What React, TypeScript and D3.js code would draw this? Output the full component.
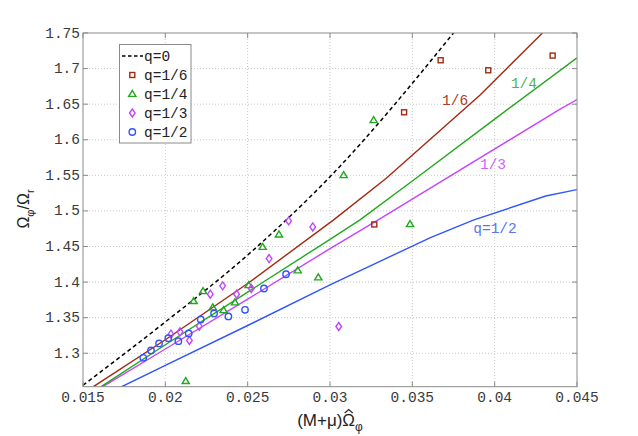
import React, { useEffect, useRef } from 'react';
import * as d3 from 'd3';

// fitted curves
const q0X = [0.015, 0.02, 0.025, 0.03, 0.0375];
const q0Y = [1.255, 1.344, 1.438, 1.548, 1.75];
const q16X = [0.01563, 0.02, 0.025, 0.0302, 0.0334, 0.0391, 0.0429];
const q16Y = [1.253, 1.319, 1.398, 1.487, 1.5455, 1.6625, 1.75];
const q14X = [0.0161, 0.02, 0.025, 0.03, 0.0318, 0.035, 0.04, 0.045];
const q14Y = [1.253, 1.312, 1.386, 1.46, 1.487, 1.542, 1.629, 1.715];
const q13X = [0.0162, 0.02, 0.025, 0.03, 0.0329, 0.0439, 0.045];
const q13Y = [1.253, 1.306, 1.376, 1.447, 1.487, 1.642, 1.6565];
const q12X = [0.01735, 0.02, 0.025, 0.03, 0.0361, 0.0387, 0.0431, 0.045];
const q12Y = [1.253, 1.283, 1.339, 1.396, 1.4626, 1.487, 1.521, 1.53];

// measured points
const sq16X = [0.03269, 0.0345, 0.03672, 0.03961, 0.04352];
const sq16Y = [1.481, 1.6386, 1.7117, 1.6976, 1.7183];
const tri14X = [0.02124, 0.02172, 0.02229, 0.02288, 0.02354, 0.02423, 0.02506, 0.02591, 0.0269, 0.02804, 0.02929, 0.03083, 0.03265, 0.03486];
const tri14Y = [1.2608, 1.3732, 1.3872, 1.3643, 1.3605, 1.3713, 1.3956, 1.4494, 1.4668, 1.4163, 1.4065, 1.5501, 1.6274, 1.4813];
const dia13X = [0.02034, 0.02089, 0.02146, 0.02206, 0.02273, 0.02348, 0.02433, 0.02522, 0.0263, 0.02749, 0.02895, 0.03053];
const dia13Y = [1.3268, 1.3301, 1.318, 1.338, 1.383, 1.3947, 1.383, 1.391, 1.4331, 1.486, 1.4775, 1.3376];
const circ12X = [0.01866, 0.01913, 0.01962, 0.02018, 0.02079, 0.02142, 0.02215, 0.02296, 0.02383, 0.02484, 0.02599, 0.02733];
const circ12Y = [1.2936, 1.304, 1.3138, 1.3212, 1.317, 1.3278, 1.3474, 1.356, 1.3517, 1.361, 1.391, 1.411];

const xTicks = [0.015, 0.02, 0.025, 0.03, 0.035, 0.04, 0.045];
const xTickLabels = ['0.015', '0.02', '0.025', '0.03', '0.035', '0.04', '0.045'];
const yTicks = [1.3, 1.35, 1.4, 1.45, 1.5, 1.55, 1.6, 1.65, 1.7, 1.75];
const yTickLabels = ['1.3', '1.35', '1.4', '1.45', '1.5', '1.55', '1.6', '1.65', '1.7', '1.75'];
const legendLabels = ['q=0', 'q=1/6', 'q=1/4', 'q=1/3', 'q=1/2'];

const RED = '#a3290f';
const GREEN = '#22a81e';
const MAGENTA = '#c644ff';
const BLUE = '#2f55ff';
const MONO = '"Liberation Mono", "DejaVu Sans Mono", monospace';
const SANS = '"Liberation Sans", Arial, sans-serif';

const zip = (xs, ys) => xs.map((x, i) => [x, ys[i]]);

const App = () => {
    const svgRef = useRef();

    useEffect(() => {
        const svg = d3.select(svgRef.current);
        const width = 638;
        const height = 436;
        const left = 83, right = 577, top = 33, bottom = 386.7;

        svg.attr('width', width).attr('height', height).selectAll('*').remove();

        const x = d3.scaleLinear().domain([0.015, 0.045]).range([left, right]);
        const y = d3.scaleLinear().domain([1.253, 1.75]).range([bottom, top]);

        svg.append('defs').append('clipPath').attr('id', 'plot')
            .append('rect').attr('x', left).attr('y', top)
            .attr('width', right - left).attr('height', bottom - top);

        // grid
        const grid = svg.append('g').attr('stroke', '#c8c8c8').attr('stroke-dasharray', '1,2').attr('stroke-width', 1);
        grid.selectAll('.gx').data(xTicks.slice(1, -1)).enter().append('line')
            .attr('x1', d => x(d)).attr('x2', d => x(d)).attr('y1', top).attr('y2', bottom);
        grid.selectAll('.gy').data(yTicks.slice(0, -1)).enter().append('line')
            .attr('x1', left).attr('x2', right).attr('y1', d => y(d)).attr('y2', d => y(d));

        const plot = svg.append('g').attr('clip-path', 'url(#plot)');
        const line = d3.line().x(d => x(d[0])).y(d => y(d[1]));
        const smooth = d3.line().x(d => x(d[0])).y(d => y(d[1])).curve(d3.curveMonotoneX);

        const curves = [
            [zip(q12X, q12Y), BLUE, null],
            [zip(q13X, q13Y), MAGENTA, null],
            [zip(q14X, q14Y), GREEN, null],
            [zip(q16X, q16Y), RED, null],
            [zip(q0X, q0Y), '#000', '4,3'],
        ];
        curves.forEach(([pts, color, dash]) => {
            plot.append('path').attr('d', dash ? smooth(pts) : line(pts)).attr('fill', 'none')
                .attr('stroke', color).attr('stroke-width', dash ? 1.5 : 1.4)
                .attr('stroke-dasharray', dash);
        });

        const drawMarker = (g, kind, cx, cy, color) => {
            const common = sel => sel.attr('fill', 'none').attr('stroke', color).attr('stroke-width', 1.4);
            if (kind === 'square') {
                g.append('rect').attr('x', cx - 2.5).attr('y', cy - 2.5).attr('width', 5).attr('height', 5).call(common);
            } else if (kind === 'triangle') {
                g.append('path').attr('d', `M${cx},${cy - 3.6}L${cx + 3.6},${cy + 2.4}L${cx - 3.6},${cy + 2.4}Z`).call(common);
            } else if (kind === 'diamond') {
                g.append('path').attr('d', `M${cx},${cy - 4}L${cx + 2.8},${cy}L${cx},${cy + 4}L${cx - 2.8},${cy}Z`).call(common);
            } else {
                g.append('circle').attr('cx', cx).attr('cy', cy).attr('r', 3.2).call(common);
            }
        };

        const markerSets = [
            [zip(sq16X, sq16Y), 'square', RED],
            [zip(tri14X, tri14Y), 'triangle', GREEN],
            [zip(dia13X, dia13Y), 'diamond', MAGENTA],
            [zip(circ12X, circ12Y), 'circle', BLUE],
        ];
        markerSets.forEach(([pts, kind, color]) => {
            pts.forEach(p => drawMarker(plot, kind, x(p[0]), y(p[1]), color));
        });

        // curve labels
        const curveLabels = [
            ['1/6', 0.0376, 1.6488, '#a8402a'],
            ['1/4', 0.04178, 1.6727, '#4fb545'],
            ['1/3', 0.0399, 1.5584, '#cc62ff'],
            ['q=1/2', 0.04002, 1.4685, '#5577f0'],
        ];
        svg.selectAll('.clabel').data(curveLabels).enter().append('text')
            .attr('x', d => x(d[1])).attr('y', d => y(d[2]))
            .attr('text-anchor', 'middle').attr('fill', d => d[3])
            .attr('font-family', MONO).attr('font-size', 14.5)
            .text(d => d[0]);

        // box and ticks
        svg.append('rect').attr('x', left).attr('y', top)
            .attr('width', right - left).attr('height', bottom - top)
            .attr('fill', 'none').attr('stroke', '#8a8a8a').attr('stroke-width', 1);
        const ticks = svg.append('g').attr('stroke', '#8a8a8a').attr('stroke-width', 1);
        xTicks.forEach(t => {
            ticks.append('line').attr('x1', x(t)).attr('x2', x(t)).attr('y1', bottom).attr('y2', bottom - 5);
            ticks.append('line').attr('x1', x(t)).attr('x2', x(t)).attr('y1', top).attr('y2', top + 5);
        });
        yTicks.forEach(t => {
            ticks.append('line').attr('x1', left).attr('x2', left + 5).attr('y1', y(t)).attr('y2', y(t));
            ticks.append('line').attr('x1', right).attr('x2', right - 5).attr('y1', y(t)).attr('y2', y(t));
        });

        svg.selectAll('.xt').data(xTicks).enter().append('text')
            .attr('x', d => x(d)).attr('y', 402)
            .attr('text-anchor', 'middle').attr('fill', '#3a3a3a')
            .attr('font-family', MONO).attr('font-size', 14.5)
            .text((d, i) => xTickLabels[i]);
        svg.selectAll('.yt').data(yTicks).enter().append('text')
            .attr('x', 80).attr('y', d => y(d) + 4.5)
            .attr('text-anchor', 'end').attr('fill', '#3a3a3a')
            .attr('font-family', MONO).attr('font-size', 14.5)
            .text((d, i) => yTickLabels[i]);

        // axis labels
        const xl = svg.append('text').attr('x', 330).attr('y', 426)
            .attr('text-anchor', 'middle').attr('fill', '#222')
            .attr('font-family', SANS).attr('font-size', 17);
        xl.append('tspan').text('(M+μ)Ω');
        xl.append('tspan').attr('font-size', 12).attr('dy', 5).text('φ');
        // hat over Omega
        const ext = xl.node().getExtentOfChar(5);
        const hx = ext.x + ext.width / 2;
        const hy = ext.y + 2;
        svg.append('path')
            .attr('d', `M${hx - 4},${hy}L${hx},${hy - 3.5}L${hx + 4},${hy}`)
            .attr('fill', 'none').attr('stroke', '#222').attr('stroke-width', 1.1);

        const yl = svg.append('text').attr('transform', 'translate(29,209) rotate(-90)')
            .attr('text-anchor', 'middle').attr('fill', '#222')
            .attr('font-family', SANS).attr('font-size', 16);
        yl.append('tspan').text('Ω');
        yl.append('tspan').attr('font-size', 11).attr('dy', 5).text('φ');
        yl.append('tspan').attr('dy', -5).text('/Ω');
        yl.append('tspan').attr('font-size', 11).attr('dy', 5).text('r');

        // legend
        const lg = svg.append('g');
        lg.append('rect').attr('x', 119.5).attr('y', 44.5).attr('width', 71.5).attr('height', 98.5)
            .attr('fill', '#fff').attr('stroke', '#8a8a8a').attr('stroke-width', 1);
        const rowY = [56, 75, 94, 113, 132];
        lg.append('line').attr('x1', 122).attr('x2', 143).attr('y1', rowY[0]).attr('y2', rowY[0])
            .attr('stroke', '#000').attr('stroke-width', 1.5).attr('stroke-dasharray', '3.5,2.5');
        ['square', 'triangle', 'diamond', 'circle'].forEach((k, i) => {
            drawMarker(lg, k, 132.3, rowY[i + 1], markerSets[i][2]);
        });
        lg.selectAll('.lt').data(legendLabels).enter().append('text')
            .attr('x', 144).attr('y', (d, i) => rowY[i] + 5)
            .attr('fill', '#222').attr('font-family', MONO).attr('font-size', 14.5)
            .text(d => d);
    }, []);

    return <svg ref={svgRef} style={{ position: 'absolute', left: 0, top: 0 }}></svg>;
};

export default App;
